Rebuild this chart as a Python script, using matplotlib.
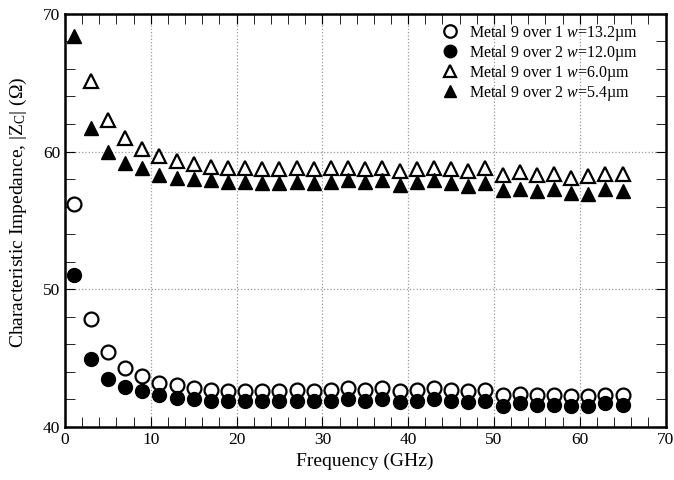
import numpy as np
import matplotlib
matplotlib.use("Agg")
import matplotlib.pyplot as plt
from matplotlib.ticker import MultipleLocator

plt.rcParams['font.family'] = ['Liberation Serif', 'DejaVu Serif']
plt.rcParams['mathtext.fontset'] = 'custom'
plt.rcParams['mathtext.rm'] = 'Liberation Serif'
plt.rcParams['mathtext.it'] = 'Liberation Serif:italic'

freq = np.arange(1, 66, 2)

# Metal 9 over 1, w=13.2um (open circles)
z_m1_wide = [56.2, 47.8, 45.4, 44.3, 43.7, 43.2, 43.0, 42.8, 42.7, 42.6, 42.6,
             42.6, 42.6, 42.7, 42.6, 42.7, 42.8, 42.7, 42.8, 42.6, 42.7, 42.8,
             42.7, 42.6, 42.7, 42.3, 42.4, 42.3, 42.3, 42.2, 42.2, 42.3, 42.3]
# Metal 9 over 2, w=12.0um (filled circles)
z_m2_wide = [51.0, 44.9, 43.5, 42.9, 42.6, 42.3, 42.1, 42.0, 41.9, 41.9, 41.9,
             41.9, 41.9, 41.9, 41.9, 41.9, 42.0, 41.9, 42.0, 41.8, 41.9, 42.0,
             41.9, 41.8, 41.9, 41.5, 41.7, 41.6, 41.6, 41.5, 41.5, 41.7, 41.6]
# Metal 9 over 1, w=6.0um (open triangles), first point off scale
z_m1_narrow = [np.nan, 65.1, 62.3, 61.0, 60.2, 59.7, 59.3, 59.1, 58.9, 58.8, 58.8,
               58.7, 58.7, 58.8, 58.7, 58.8, 58.8, 58.7, 58.8, 58.6, 58.7, 58.8,
               58.7, 58.6, 58.8, 58.3, 58.5, 58.3, 58.4, 58.1, 58.2, 58.4, 58.4]
# Metal 9 over 2, w=5.4um (filled triangles)
z_m2_narrow = [68.4, 61.7, 60.0, 59.2, 58.8, 58.3, 58.1, 58.0, 57.9, 57.8, 57.8,
               57.7, 57.7, 57.8, 57.7, 57.8, 57.9, 57.8, 57.9, 57.6, 57.8, 57.9,
               57.7, 57.5, 57.7, 57.2, 57.3, 57.1, 57.3, 57.0, 56.9, 57.3, 57.1]

fig = plt.figure(figsize=(6.74, 4.8), dpi=100)
ax = fig.add_axes([0.0964, 0.111, 0.891, 0.860])

ms = 10
ax.plot(freq, z_m1_wide, 'o', ms=ms, mfc='white', mec='black', mew=1.6,
        label=r'Metal 9 over 1 $\it{w}$=13.2µm')
ax.plot(freq, z_m2_wide, 'o', ms=ms, mfc='black', mec='black',
        label=r'Metal 9 over 2 $\it{w}$=12.0µm')
ax.plot(freq, z_m1_narrow, '^', ms=ms, mfc='white', mec='black', mew=1.6,
        label=r'Metal 9 over 1 $\it{w}$=6.0µm')
ax.plot(freq, z_m2_narrow, '^', ms=ms, mfc='black', mec='black',
        label=r'Metal 9 over 2 $\it{w}$=5.4µm')

ax.set_xlim(0, 70)
ax.set_ylim(40, 70)
ax.xaxis.set_major_locator(MultipleLocator(10))
ax.xaxis.set_minor_locator(MultipleLocator(2))
ax.yaxis.set_major_locator(MultipleLocator(10))
ax.yaxis.set_minor_locator(MultipleLocator(2))
ax.tick_params(which='both', direction='in', top=True, right=True, labelsize=12.5)
ax.tick_params(which='both', length=7)
ax.grid(True, which='major', ls=':', color='#999999', lw=0.9)
for s in ax.spines.values():
    s.set_linewidth(1.8)

ax.set_xlabel('Frequency (GHz)', fontsize=14)
ax.set_ylabel(r'Characteristic Impedance, |Z$_\mathrm{C}$| (Ω)', fontsize=14)
ax.yaxis.set_label_coords(-0.06, 0.52)

ax.legend(loc='upper right', bbox_to_anchor=(0.975, 1.01), frameon=False,
          fontsize=11.5, handletextpad=0.4, labelspacing=0.0, borderpad=0.3,
          markerscale=0.9, handlelength=1.5)

fig.savefig('out.png', dpi=100)
